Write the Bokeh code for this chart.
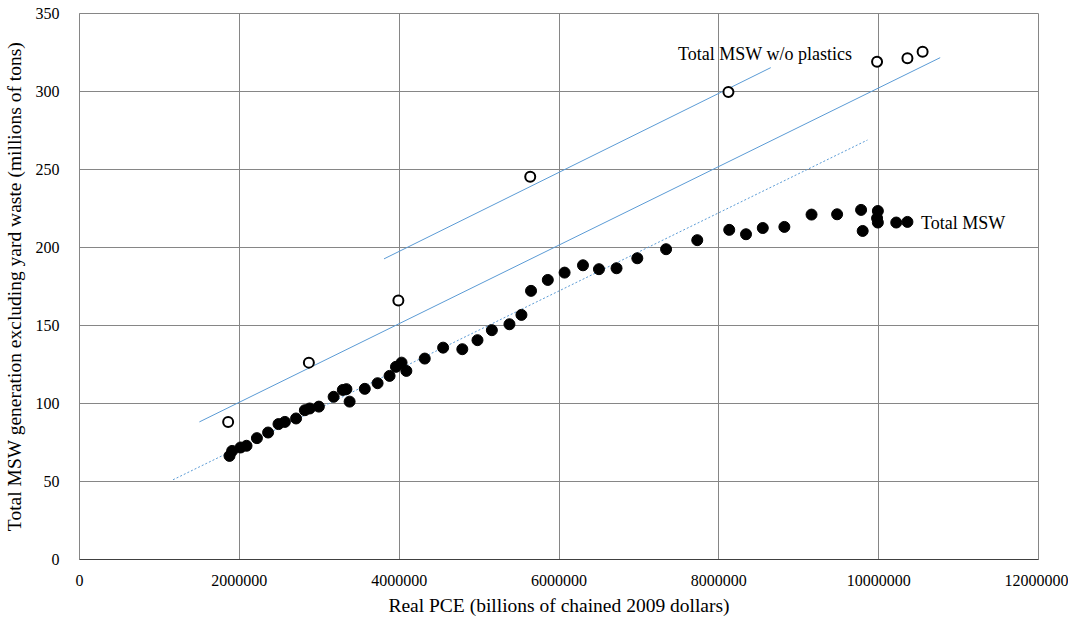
from bokeh.plotting import figure
from bokeh.models import FixedTicker, BasicTickFormatter, Label, Range1d
from bokeh.embed import file_html
from bokeh.resources import INLINE

# Total MSW (filled)
msw_pce = [1877000, 1910000, 2015000, 2090000, 2220000, 2360000, 2490000, 2570000,
           2710000, 2820000, 2880000, 2995000, 3180000, 3295000, 3340000, 3380000,
           3570000, 3730000, 3880000, 3960000, 4030000, 4090000, 4320000, 4550000,
           4790000, 4980000, 5160000, 5380000, 5530000, 5650000, 5860000, 6070000,
           6300000, 6500000, 6720000, 6980000, 7340000, 7730000, 8130000, 8340000,
           8550000, 8820000, 9160000, 9480000, 9780000, 9800000, 9990000, 9980000,
           9990000, 10220000, 10360000]
msw_tons = [66.4, 69.6, 71.8, 72.9, 77.8, 81.4, 86.8, 88.2,
            90.4, 95.7, 96.8, 98.0, 104.3, 108.7, 109.2, 101.2,
            109.4, 113.0, 117.7, 123.5, 126.2, 120.9, 128.8, 135.8,
            134.8, 140.6, 147.0, 150.8, 156.8, 172.2, 179.2, 183.9,
            188.6, 186.1, 186.7, 193.1, 198.9, 204.7, 211.3, 208.5,
            212.5, 213.2, 221.1, 221.3, 224.1, 210.6, 223.4, 218.8,
            216.0, 216.0, 216.4]

# Total MSW w/o plastics (hollow)
nop_pce = [1860000, 2870000, 3990000, 5640000, 8120000, 9980000, 10360000, 10550000]
nop_tons = [88.2, 126.2, 166.0, 245.4, 299.7, 319.1, 321.3, 325.5]

# Trend lines (endpoints)
lineA_x = [1500000, 10770000]
lineA_y = [88.2, 321.7]
lineB_x = [3810000, 8650000]
lineB_y = [192.7, 315.3]
lineC_x = [1170000, 9860000]
lineC_y = [51.1, 268.9]

x_ticks = [0, 2000000, 4000000, 6000000, 8000000, 10000000, 12000000]
y_ticks = [0, 50, 100, 150, 200, 250, 300, 350]

FONT = "Liberation Serif"
GRID = "#868686"
BLUE = "#5B9BD5"

p = figure(width=1068, height=620, output_backend="svg", toolbar_location=None,
           x_range=Range1d(0, 12000000), y_range=Range1d(0, 350),
           min_border_left=78, min_border_right=30, min_border_top=13, min_border_bottom=61)
p.outline_line_color = GRID
p.outline_line_width = 1

for ax in (p.xaxis[0], p.yaxis[0]):
    ax.major_tick_line_color = None
    ax.minor_tick_line_color = None
    ax.major_label_text_font = FONT
    ax.major_label_text_font_size = "16px"
    ax.major_label_text_color = "#000000"
    ax.axis_label_text_font = FONT
    ax.axis_label_text_font_size = "19.5px"
    ax.axis_label_text_font_style = "normal"
    ax.axis_label_text_color = "#000000"

p.xaxis.ticker = FixedTicker(ticks=x_ticks)
p.yaxis.ticker = FixedTicker(ticks=y_ticks)
p.xaxis.formatter = BasicTickFormatter(use_scientific=False)
p.xaxis.axis_label = "Real PCE (billions of chained 2009 dollars)"
p.yaxis.axis_label = "Total MSW generation excluding yard waste (millions of tons)"
p.xaxis.axis_line_color = "#404040"
p.yaxis.axis_line_color = GRID
p.xaxis.major_label_standoff = 9
p.yaxis.major_label_standoff = 14
p.xaxis.axis_label_standoff = 6
p.yaxis.axis_label_standoff = 8

p.xgrid.grid_line_color = GRID
p.ygrid.grid_line_color = GRID
p.xgrid.grid_line_width = 1
p.ygrid.grid_line_width = 1

p.line(lineA_x, lineA_y, line_color=BLUE, line_width=1)
p.line(lineB_x, lineB_y, line_color=BLUE, line_width=1)
p.line(lineC_x, lineC_y, line_color=BLUE, line_width=1, line_dash="2 2")

p.scatter(msw_pce, msw_tons, size=11, fill_color="black", line_color="black")
p.scatter(nop_pce, nop_tons, size=10, fill_color="white", line_color="black", line_width=2)

p.add_layout(Label(x=10530000, y=216, text="Total MSW", text_font=FONT,
                   text_font_size="18px", text_baseline="middle", text_align="left",
                   text_color="#000000"))
p.add_layout(Label(x=7490000, y=324, text="Total MSW w/o plastics", text_font=FONT,
                   text_font_size="18px", text_baseline="middle", text_align="left",
                   text_color="#000000"))

open("out.html", "w").write(file_html(p, INLINE))
